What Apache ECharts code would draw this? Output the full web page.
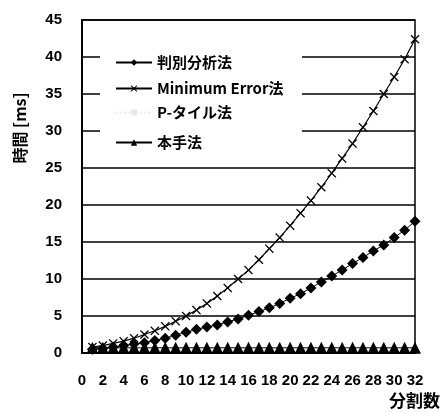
<!DOCTYPE html>
<html>
<head>
<meta charset="utf-8">
<script src="https://cdn.jsdelivr.net/npm/echarts@6/dist/echarts.min.js"></script>
<style>
  html, body { margin: 0; padding: 0; background: #fff; }
  #chart { width: 444px; height: 413px; }
</style>
</head>
<body>
<div id="chart"></div>
<script>
// 分割数 1..32
const divisions = [1, 2, 3, 4, 5, 6, 7, 8, 9, 10, 11, 12, 13, 14, 15, 16,
  17, 18, 19, 20, 21, 22, 23, 24, 25, 26, 27, 28, 29, 30, 31, 32];

const discriminant = [0.5, 0.6, 0.8, 1.0, 1.2, 1.4, 1.7, 2.0, 2.4, 2.8, 3.2, 3.5, 3.8, 4.2, 4.6, 5.1,
  5.6, 6.1, 6.7, 7.4, 8.0, 8.8, 9.6, 10.4, 11.2, 12.1, 12.9, 13.8, 14.6, 15.6, 16.6, 17.8];

const minError = [0.8, 1.0, 1.3, 1.6, 2.0, 2.5, 3.0, 3.6, 4.3, 5.0, 5.8, 6.7, 7.7, 8.8, 10.0, 11.2,
  12.6, 14.1, 15.6, 17.2, 18.9, 20.6, 22.4, 24.3, 26.3, 28.3, 30.5, 32.7, 35.0, 37.3, 39.7, 42.4];

const pTile = [0.3, 0.3, 0.3, 0.3, 0.3, 0.3, 0.3, 0.3, 0.3, 0.3, 0.3, 0.3, 0.3, 0.3, 0.3, 0.3,
  0.3, 0.3, 0.3, 0.3, 0.3, 0.3, 0.3, 0.3, 0.3, 0.3, 0.3, 0.3, 0.3, 0.3, 0.3, 0.3];

const proposed = [0.7, 0.7, 0.7, 0.7, 0.7, 0.7, 0.7, 0.7, 0.7, 0.7, 0.7, 0.7, 0.7, 0.7, 0.7, 0.7,
  0.7, 0.7, 0.7, 0.7, 0.7, 0.7, 0.7, 0.7, 0.7, 0.7, 0.7, 0.7, 0.7, 0.7, 0.7, 0.7];

const seriesNames = ['判別分析法', 'Minimum Error法', 'P-タイル法', '本手法'];

const pair = (vals) => divisions.map((d, i) => [d, vals[i]]);

const crossPath = 'path://M0,1L1,0L5,4L9,0L10,1L6,5L10,9L9,10L5,6L1,10L0,9L4,5Z';
const cjk = '"Noto Sans CJK JP", "Noto Sans", sans-serif';
const num = '"Liberation Sans Narrow", "Liberation Sans", Arial, sans-serif';

const myChart = echarts.init(document.getElementById('chart'));

const legendBase = {
  left: 110,
  itemWidth: 36,
  itemHeight: 8,
  itemGap: 8,
  textStyle: { fontFamily: cjk, fontSize: 15, fontWeight: 'bold', color: '#000' },
};

const option = {
  backgroundColor: '#fff',
  animation: false,
  grid: {
    left: 82, right: 29, top: 20, bottom: 60,
    show: true, borderColor: '#000', borderWidth: 1.5,
  },
  legend: [
    Object.assign({}, legendBase, { top: 50, data: [seriesNames[0]] }),
    Object.assign({}, legendBase, { top: 76, data: [seriesNames[1]] }),
    Object.assign({}, legendBase, { top: 100, data: [seriesNames[2]] }),
    Object.assign({}, legendBase, { top: 130, data: [seriesNames[3]] }),
  ],
  graphic: [
    {
      type: 'rect', z: 1, silent: true,
      shape: { x: 100, y: 44, width: 202, height: 104 },
      style: { fill: '#fff' },
    },
    {
      type: 'text', x: 20, y: 128, rotation: Math.PI / 2,
      style: {
        text: '時間 [ms]', fontFamily: cjk, fontSize: 16, fontWeight: 'bold',
        fill: '#000', align: 'center', verticalAlign: 'middle',
      },
    },
    {
      type: 'text', right: 4, top: 392,
      style: { text: '分割数', fontFamily: cjk, fontSize: 17, fontWeight: 'bold', fill: '#000' },
    },
  ],
  xAxis: {
    type: 'value', min: 0, max: 32, interval: 2,
    axisLine: { lineStyle: { color: '#000', width: 2 } },
    axisTick: { show: false },
    splitLine: { show: false },
    axisLabel: {
      color: '#000', fontFamily: num, fontSize: 15, fontWeight: 'bold', margin: 20,
    },
  },
  yAxis: {
    type: 'value', min: 0, max: 45, interval: 5,
    axisLine: { show: true, lineStyle: { color: '#000', width: 2 } },
    axisTick: { show: false },
    splitLine: { lineStyle: { color: '#000', width: 1.5 } },
    axisLabel: {
      color: '#000', fontFamily: num, fontSize: 15, fontWeight: 'bold', margin: 20,
    },
  },
  series: [
    {
      name: seriesNames[0], type: 'line', data: pair(discriminant),
      symbol: 'diamond', symbolSize: 11, z: 3,
      lineStyle: { color: '#000', width: 1 },
      itemStyle: { color: '#000' },
    },
    {
      name: seriesNames[1], type: 'line', data: pair(minError),
      symbol: crossPath, symbolSize: 9, z: 3,
      lineStyle: { color: '#000', width: 1.2 },
      itemStyle: { color: '#000' },
    },
    {
      name: seriesNames[2], type: 'line', data: pair(pTile),
      symbol: 'circle', symbolSize: 2, z: 2,
      lineStyle: { color: '#eeeeee', width: 1, type: 'dotted' },
      itemStyle: { color: '#e8e8e8' },
    },
    {
      name: seriesNames[3], type: 'line', data: pair(proposed),
      symbol: 'triangle', symbolSize: 12, z: 4,
      lineStyle: { color: '#000', width: 1 },
      itemStyle: { color: '#000' },
    },
  ],
};

myChart.setOption(option);
</script>
</body>
</html>
